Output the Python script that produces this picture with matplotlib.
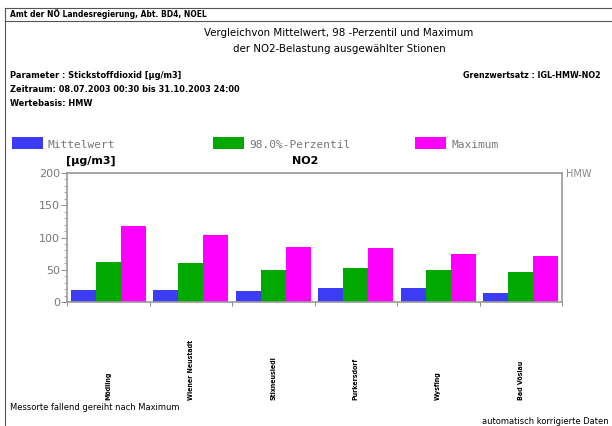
import numpy as np
import matplotlib
matplotlib.use("Agg")
import matplotlib.pyplot as plt
from matplotlib.transforms import blended_transform_factory
from matplotlib.lines import Line2D
from matplotlib.patches import Rectangle

# data
stations = ["Mödling", "Wiener Neustadt", "Stixneusiedl", "Purkersdorf", "Wysfing", "Bad Vöslau"]
mittelwert = [19, 19, 17, 22, 22, 14]
perzentil = [62, 60, 50, 53, 50, 46]
maximum = [118, 104, 85, 84, 74, 72]

series_names = ["Mittelwert", "98.0%-Perzentil", "Maximum"]
colors = ["#3c3cf5", "#00a800", "#ff00ff"]

plt.rcParams['font.family'] = ['DejaVu Sans']
plt.rcParams['font.stretch'] = 'condensed'

W, H = 612, 426
fig = plt.figure(figsize=(W / 100, H / 100), dpi=100)
fig.patch.set_facecolor("white")

def fx(px):
    return px / W

def fy(py):
    return 1 - py / H

# frame lines of the report
fig.add_artist(Line2D([fx(5), 1], [fy(8), fy(8)], color="#555555", lw=0.8))
fig.add_artist(Line2D([fx(5), 1], [fy(21), fy(21)], color="#555555", lw=0.8))
fig.add_artist(Line2D([fx(5), fx(5)], [fy(8), 0], color="#555555", lw=0.8))

# header texts
fig.text(fx(10), fy(14), "Amt der NÖ Landesregierung, Abt. BD4, NOEL",
         fontsize=6, fontweight="bold", va="center")
fig.text(fx(339), fy(33), "Vergleichvon Mittelwert, 98 -Perzentil und Maximum",
         fontsize=8.2, ha="center", va="center")
fig.text(fx(339), fy(49), "der NO2-Belastung ausgewählter Stionen",
         fontsize=8.2, ha="center", va="center")
fig.text(fx(10), fy(75), "Parameter : Stickstoffdioxid [µg/m3]",
         fontsize=6.6, fontweight="bold", va="center")
fig.text(fx(10), fy(89), "Zeitraum: 08.07.2003 00:30 bis 31.10.2003 24:00",
         fontsize=6.6, fontweight="bold", va="center")
fig.text(fx(10), fy(103), "Wertebasis: HMW",
         fontsize=6.6, fontweight="bold", va="center")
fig.text(fx(601), fy(75), "Grenzwertsatz : IGL-HMW-NO2",
         fontsize=6.4, fontweight="bold", ha="right", va="center")

# legend
leg_x = [12, 213, 415]
for i in range(3):
    fig.add_artist(Rectangle((fx(leg_x[i]), fy(149)), fx(31), 12 / H,
                             facecolor=colors[i], edgecolor="none"))
    fig.text(fx(leg_x[i] + 36), fy(145), series_names[i], fontsize=8,
             family="DejaVu Sans Mono", stretch="normal", color="#777777",
             va="center")

fig.text(fx(66), fy(161), "[µg/m3]", fontsize=8, fontweight="bold",
         stretch="normal", va="center")
fig.text(fx(305), fy(161), "NO2", fontsize=8, fontweight="bold",
         stretch="normal", ha="center", va="center")
fig.text(fx(566), fy(174), "HMW", fontsize=7, stretch="normal",
         color="#888888", va="center")

# plot area
ax = fig.add_axes([fx(67), fy(302), fx(562 - 67), 129 / H])
x = np.arange(len(stations))
bw = 0.303
for i, vals in enumerate([mittelwert, perzentil, maximum]):
    ax.bar(x + (i - 1) * bw, vals, width=bw, color=colors[i],
           edgecolor="none", zorder=2)

ax.set_xlim(-0.5, len(stations) - 0.5)
ax.set_ylim(0, 200)
ax.set_yticks([0, 50, 100, 150, 200])
ax.set_yticks(np.arange(0, 201, 10), minor=True)
ax.set_xticks(np.arange(len(stations) + 1) - 0.5)
ax.set_xticklabels([])
ax.tick_params(axis="y", labelsize=8, labelcolor="#777777", color="#888888",
               length=4, width=0.7, pad=1)
ax.tick_params(axis="y", which="minor", length=2, width=0.5, color="#888888")
ax.tick_params(axis="x", length=3, width=0.7, color="#888888")
for lab in ax.get_yticklabels():
    lab.set_stretch("normal")
for s in ax.spines.values():
    s.set_color("#999999")
    s.set_linewidth(1.2)

# station names, rotated, bottom-aligned
trans = blended_transform_factory(ax.transData, fig.transFigure)
for i, name in enumerate(stations):
    ax.text(i, fy(400), name, transform=trans, rotation=90, ha="center",
            va="bottom", fontsize=5, fontweight="bold")

fig.text(fx(10), fy(408), "Messorte fallend gereiht nach Maximum",
         fontsize=6.7, va="center")
fig.text(fx(609), fy(421), "automatisch korrigierte Daten",
         fontsize=6.7, ha="right", va="center")

fig.savefig("out.png", dpi=100)
